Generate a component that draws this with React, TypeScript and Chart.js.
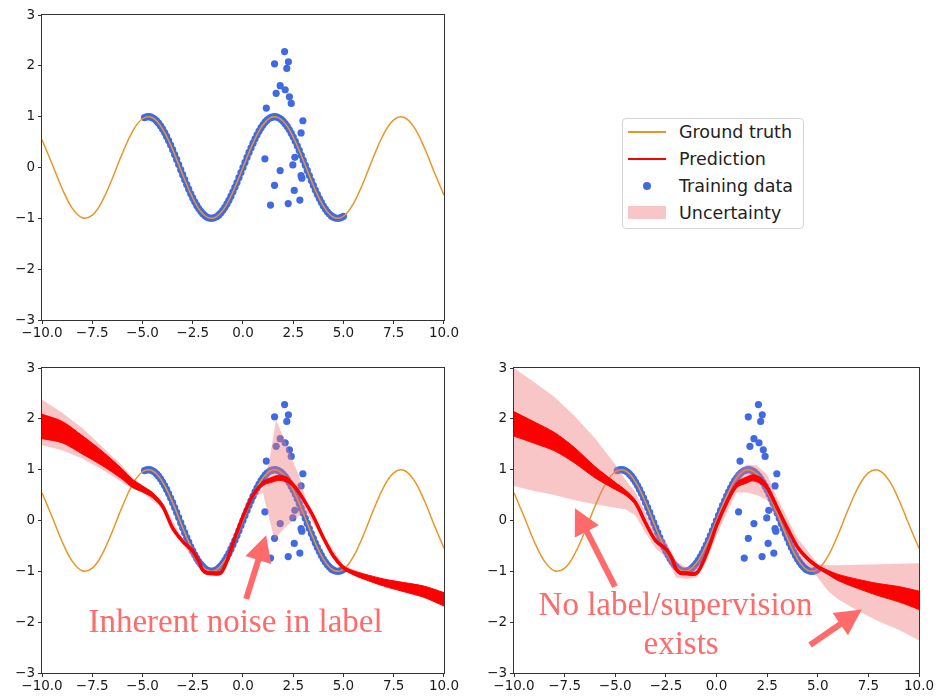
import React, { useEffect, useRef } from 'react';
import { Chart, registerables } from 'chart.js';

Chart.register(...registerables);

// ---------- tick labels ----------
const X_TICKS = [-10, -7.5, -5, -2.5, 0, 2.5, 5, 7.5, 10];
const X_TICK_LABELS = ['−10.0', '−7.5', '−5.0', '−2.5', '0.0', '2.5', '5.0', '7.5', '10.0'];
const Y_TICKS = [-3, -2, -1, 0, 1, 2, 3];
const Y_TICK_LABELS = ['−3', '−2', '−1', '0', '1', '2', '3'];

const LEGEND_LABELS = ['Ground truth', 'Prediction', 'Training data', 'Uncertainty'];

// ---------- ground truth ----------
const truthX = [-10, -9.5, -9, -8.5, -8, -7.5, -7, -6.5, -6, -5.5, -5, -4.5, -4, -3.5, -3, -2.5, -2, -1.5, -1, -0.5, 0,
  0.5, 1, 1.5, 2, 2.5, 3, 3.5, 4, 4.5, 5, 5.5, 6, 6.5, 7, 7.5, 8, 8.5, 9, 9.5, 10];
const truthY = [0.544, 0.075, -0.412, -0.798, -0.989, -0.938, -0.657, -0.215, 0.279, 0.706, 0.959, 0.978, 0.757, 0.351, -0.141,
  -0.598, -0.909, -0.997, -0.841, -0.479, 0, 0.479, 0.841, 0.997, 0.909, 0.598, 0.141, -0.351, -0.757, -0.978, -0.959,
  -0.706, -0.279, 0.215, 0.657, 0.938, 0.989, 0.798, 0.412, -0.075, -0.544];

// ---------- training data: clean samples on the curve ----------
const denseX = [-4.9, -4.8, -4.7, -4.6, -4.5, -4.4, -4.3, -4.2, -4.1, -4.0, -3.9, -3.8, -3.7, -3.6, -3.5, -3.4, -3.3, -3.2, -3.1, -3.0,
  -2.9, -2.8, -2.7, -2.6, -2.5, -2.4, -2.3, -2.2, -2.1, -2.0, -1.9, -1.8, -1.7, -1.6, -1.5, -1.4, -1.3, -1.2, -1.1, -1.0,
  -0.9, -0.8, -0.7, -0.6, -0.5, -0.4, -0.3, -0.2, -0.1, 0.0, 0.1, 0.2, 0.3, 0.4, 0.5, 0.6, 0.7, 0.8, 0.9, 1.0,
  1.1, 1.2, 1.3, 1.4, 1.5, 1.6, 1.7, 1.8, 1.9, 2.0, 2.1, 2.2, 2.3, 2.4, 2.5, 2.6, 2.7, 2.8, 2.9, 3.0,
  3.1, 3.2, 3.3, 3.4, 3.5, 3.6, 3.7, 3.8, 3.9, 4.0, 4.1, 4.2, 4.3, 4.4, 4.5, 4.6, 4.7, 4.8, 4.9, 5.0];
const denseY = [0.983, 0.996, 1.0, 0.994, 0.978, 0.952, 0.916, 0.872, 0.818, 0.757, 0.688, 0.612, 0.53, 0.443, 0.351, 0.256, 0.158, 0.058, -0.042, -0.141,
  -0.239, -0.335, -0.427, -0.516, -0.598, -0.676, -0.746, -0.808, -0.863, -0.909, -0.946, -0.974, -0.992, -1.0, -0.997, -0.985, -0.964, -0.932, -0.891, -0.841,
  -0.783, -0.717, -0.644, -0.565, -0.479, -0.389, -0.296, -0.199, -0.1, 0.0, 0.1, 0.199, 0.296, 0.389, 0.479, 0.565, 0.644, 0.717, 0.783, 0.841,
  0.891, 0.932, 0.964, 0.985, 0.997, 1.0, 0.992, 0.974, 0.946, 0.909, 0.863, 0.808, 0.746, 0.676, 0.598, 0.516, 0.427, 0.335, 0.239, 0.141,
  0.042, -0.058, -0.158, -0.256, -0.351, -0.443, -0.53, -0.612, -0.688, -0.757, -0.818, -0.872, -0.916, -0.952, -0.978, -0.994, -1.0, -0.996, -0.983, -0.959];

// ---------- training data: noisy labels ----------
const noisyX = [2.07, 1.57, 2.26, 2.18, 1.85, 2.10, 1.65, 2.31, 2.40, 1.16, 2.98, 2.89, 1.09, 2.58, 2.48, 1.85, 2.89, 2.93, 1.57, 2.55, 1.37, 2.25, 2.83];
const noisyY = [2.28, 2.04, 2.08, 1.95, 1.61, 1.53, 1.46, 1.39, 1.26, 1.17, 0.92, 0.68, 0.17, 0.20, 0.05, -0.06, -0.16, -0.21, -0.35, -0.45, -0.74, -0.71, -0.64];

// ---------- bottom-left: prediction ----------
const predLeftX = [-10, -9, -8, -7, -6, -5.5, -5, -4.5, -4, -3.5, -3, -2.5, -2.2, -2, -1.8, -1.5, -1.1, -0.8, -0.5, 0,
  0.5, 1, 1.5, 1.8, 2.2, 2.6, 3, 3.5, 4, 4.5, 5, 5.5, 6, 7, 8, 9, 10];
const predLeftY = [1.85, 1.74, 1.49, 1.22, 0.91, 0.73, 0.62, 0.50, 0.28, -0.15, -0.41, -0.60, -0.80, -0.98, -1.03, -1.04, -1.03, -0.80, -0.45, 0.08,
  0.50, 0.73, 0.81, 0.84, 0.80, 0.65, 0.42, 0.08, -0.34, -0.70, -0.93, -1.03, -1.10, -1.22, -1.31, -1.40, -1.55];
const predLeftJitter = [0.24, 0.21, 0.18, 0.14, 0.10, 0.08, 0.06, 0.05, 0.04, 0.03, 0.03, 0.03, 0.03, 0.03, 0.03, 0.03, 0.03, 0.03, 0.03, 0.03,
  0.03, 0.04, 0.05, 0.05, 0.05, 0.04, 0.03, 0.03, 0.03, 0.03, 0.03, 0.04, 0.05, 0.07, 0.09, 0.11, 0.13];

// ---------- bottom-left: uncertainty ----------
const bandLeftX = [-10, -9, -8, -7, -6, -5.5, -5, -4, -3, -2, -1.5, -1, 0, 0.5, 1.0, 1.1, 1.3, 1.57, 1.65, 2.0,
  2.2, 2.47, 2.81, 3.22, 3.4, 4, 5, 6, 7, 8, 9, 10];
const bandLeftLo = [1.48, 1.38, 1.22, 1.00, 0.75, 0.63, 0.55, 0.22, -0.46, -1.03, -1.09, -1.00, 0.03, 0.45, 0.55, 0.35, 0.05, -0.38, -0.33, -0.18,
  -0.10, 0.0, 0.10, 0.12, 0.0, -0.39, -0.98, -1.16, -1.29, -1.40, -1.52, -1.70];
const bandLeftHi = [2.38, 2.12, 1.82, 1.45, 1.07, 0.85, 0.70, 0.34, -0.36, -0.93, -0.99, -0.90, 0.13, 0.55, 0.62, 0.85, 1.15, 1.80, 1.98, 1.65,
  1.45, 1.18, 0.86, 0.30, 0.10, -0.29, -0.88, -1.04, -1.15, -1.22, -1.28, -1.40];

// ---------- bottom-right: prediction ----------
const predRightX = [-10, -9, -8, -7, -6, -5, -4.5, -4, -3.5, -3, -2.5, -2.2, -2, -1.8, -1.5, -1, -0.7, -0.3, 0, 0.5,
  1, 1.5, 1.8, 2.2, 2.5, 3, 3.5, 4, 4.5, 5, 5.5, 6, 7, 8, 9, 10];
const predRightY = [1.90, 1.73, 1.55, 1.28, 0.95, 0.68, 0.55, 0.35, -0.05, -0.40, -0.56, -0.75, -0.95, -1.03, -1.04, -1.04, -0.85, -0.45, -0.10, 0.35,
  0.70, 0.80, 0.84, 0.78, 0.65, 0.25, -0.15, -0.52, -0.75, -0.91, -1.02, -1.12, -1.25, -1.36, -1.45, -1.57];
const predRightJitter = [0.24, 0.21, 0.18, 0.15, 0.11, 0.07, 0.05, 0.04, 0.03, 0.03, 0.03, 0.03, 0.03, 0.03, 0.03, 0.03, 0.03, 0.03, 0.03, 0.04,
  0.05, 0.06, 0.06, 0.06, 0.05, 0.04, 0.03, 0.03, 0.03, 0.03, 0.04, 0.06, 0.09, 0.12, 0.15, 0.18];

// ---------- bottom-right: uncertainty ----------
const bandRightX = [-10, -9, -8, -7, -6, -5, -4.5, -4, -3.5, -3, -2.5, -2, -1.5, -1, -0.5, 0, 0.5, 1, 1.5, 2,
  2.5, 3, 3.5, 4, 4.5, 5, 5.5, 6, 7, 8, 9, 10];
const bandRightLo = [0.68, 0.58, 0.50, 0.40, 0.32, 0.25, 0.22, 0.10, -0.25, -0.55, -0.72, -1.12, -1.15, -1.12, -0.80, -0.30, 0.15, 0.55, 0.55, 0.50,
  0.40, 0.05, -0.35, -0.70, -0.90, -1.12, -1.38, -1.55, -1.78, -1.98, -2.15, -2.36];
const bandRightHi = [3.00, 2.72, 2.43, 2.05, 1.62, 1.10, 0.80, 0.55, 0.15, -0.25, -0.40, -0.80, -0.92, -0.90, -0.50, 0.05, 0.50, 0.95, 1.10, 1.08,
  0.90, 0.45, 0.05, -0.35, -0.60, -0.85, -0.88, -0.88, -0.87, -0.86, -0.85, -0.84];

// ---------- annotation text ----------
const NOTE_LEFT_TEXT = ['Inherent noise in label'];
const NOTE_RIGHT_TEXT = ['No label/supervision', 'exists'];

// ---------- styles ----------
const ORANGE = '#e8962a';
const RED = '#ff0000';
const BLUE = '#4169e1';
const BAND = 'rgba(238, 120, 120, 0.42)';
const NOTE = '#ff6a6a';
const AXIS = '#333333';
const TICK_FONT = { family: 'DejaVu Sans', size: 13.5 };

const pts = (xs: number[], ys: number[]) => xs.map((x, i) => ({ x, y: ys[i] }));

const framePlugin = {
  id: 'frame',
  afterDatasetsDraw(chart: any) {
    const { ctx, chartArea: a } = chart;
    ctx.save();
    ctx.strokeStyle = AXIS;
    ctx.lineWidth = 1;
    const l = Math.round(a.left) - 0.5;
    const t = Math.round(a.top) - 0.5;
    const r = Math.round(a.right) + 0.5;
    const b = Math.round(a.bottom) + 0.5;
    ctx.strokeRect(l, t, r - l, b - t);
    ctx.restore();
  },
};

type Arrow = { from: [number, number]; to: [number, number] };
type Label = { x: number; y: number; text: string };

function makeNotesPlugin(arrows: Arrow[], labels: Label[]) {
  return {
    id: 'notes',
    afterDatasetsDraw(chart: any) {
      const { ctx } = chart;
      const xs = chart.scales.x;
      const ys = chart.scales.y;
      ctx.save();
      ctx.fillStyle = NOTE;
      ctx.strokeStyle = NOTE;
      for (const ar of arrows) {
        const x1 = xs.getPixelForValue(ar.from[0]);
        const y1 = ys.getPixelForValue(ar.from[1]);
        const x2 = xs.getPixelForValue(ar.to[0]);
        const y2 = ys.getPixelForValue(ar.to[1]);
        const dx = x2 - x1;
        const dy = y2 - y1;
        const L = Math.hypot(dx, dy);
        const ux = dx / L;
        const uy = dy / L;
        const hl = 26;
        const hw = 13.5;
        const bx = x2 - ux * hl;
        const by = y2 - uy * hl;
        ctx.lineWidth = 6;
        ctx.lineCap = 'butt';
        ctx.beginPath();
        ctx.moveTo(x1, y1);
        ctx.lineTo(bx + ux * 2, by + uy * 2);
        ctx.stroke();
        ctx.beginPath();
        ctx.moveTo(x2, y2);
        ctx.lineTo(bx - uy * hw, by + ux * hw);
        ctx.lineTo(bx + uy * hw, by - ux * hw);
        ctx.closePath();
        ctx.fill();
      }
      ctx.font = '33px "Liberation Serif", "DejaVu Serif", serif';
      ctx.textAlign = 'center';
      ctx.textBaseline = 'alphabetic';
      for (const lb of labels) {
        ctx.fillText(lb.text, xs.getPixelForValue(lb.x), ys.getPixelForValue(lb.y));
      }
      ctx.restore();
    },
  };
}

type Kind = 'top' | 'left' | 'right';

function buildConfig(kind: Kind, xAxisHeight: number, padRight: number): any {
  const datasets: any[] = [];
  if (kind !== 'top') {
    const pX = kind === 'left' ? predLeftX : predRightX;
    const pY = kind === 'left' ? predLeftY : predRightY;
    const pJ = kind === 'left' ? predLeftJitter : predRightJitter;
    const bX = kind === 'left' ? bandLeftX : bandRightX;
    const bLo = kind === 'left' ? bandLeftLo : bandRightLo;
    const bHi = kind === 'left' ? bandLeftHi : bandRightHi;
    datasets.push(
      { label: 'Prediction', data: pts(pX, pY), borderColor: RED, borderWidth: 3.5, pointRadius: 0, tension: 0.3, fill: false, order: 0 },
      { label: 'Prediction (upper jitter)', data: pX.map((x, i) => ({ x, y: pY[i] + pJ[i] })), borderColor: RED, borderWidth: 1, backgroundColor: RED, pointRadius: 0, tension: 0.3, fill: '+1', order: 0 },
      { label: 'Prediction (lower jitter)', data: pX.map((x, i) => ({ x, y: pY[i] - pJ[i] })), borderColor: RED, borderWidth: 1, pointRadius: 0, tension: 0.3, fill: false, order: 0 },
      { label: 'Uncertainty', data: pts(bX, bHi), borderColor: 'rgba(0,0,0,0)', borderWidth: 0, backgroundColor: BAND, pointRadius: 0, tension: 0, fill: '+1', order: 1 },
      { label: 'Uncertainty (lower)', data: pts(bX, bLo), borderColor: 'rgba(0,0,0,0)', borderWidth: 0, pointRadius: 0, tension: 0, fill: false, order: 1 },
    );
  }
  datasets.push(
    { label: 'Ground truth', data: pts(truthX, truthY), borderColor: ORANGE, borderWidth: 1.5, pointRadius: 0, tension: 0.4, fill: false, order: 2 },
    { label: 'Training data', data: [...pts(denseX, denseY), ...pts(noisyX, noisyY)], showLine: false, pointRadius: 3.6, pointBorderWidth: 0, pointBackgroundColor: BLUE, backgroundColor: BLUE, order: 3 },
  );

  const plugins: any[] = [framePlugin];
  if (kind === 'left') {
    plugins.push(makeNotesPlugin(
      [{ from: [0.16, -1.54], to: [1.15, -0.29] }],
      [{ x: -0.37, y: -2.19, text: NOTE_LEFT_TEXT[0] }],
    ));
  } else if (kind === 'right') {
    plugins.push(makeNotesPlugin(
      [
        { from: [-5.01, -1.30], to: [-6.99, 0.24] },
        { from: [4.62, -2.45], to: [7.17, -1.75] },
      ],
      [
        { x: -2.02, y: -1.86, text: NOTE_RIGHT_TEXT[0] },
        { x: -1.75, y: -2.63, text: NOTE_RIGHT_TEXT[1] },
      ],
    ));
  }

  return {
    type: 'line',
    data: { datasets },
    plugins,
    options: {
      animation: false,
      responsive: false,
      events: [],
      layout: { padding: { top: 15, right: padRight, left: 0, bottom: 0 } },
      plugins: { legend: { display: false }, tooltip: { enabled: false } },
      scales: {
        x: {
          type: 'linear',
          min: -10,
          max: 10,
          afterBuildTicks: (s: any) => { s.ticks = X_TICKS.map((v) => ({ value: v })); },
          afterFit: (s: any) => { s.height = xAxisHeight; },
          ticks: {
            callback: (_v: any, i: number) => X_TICK_LABELS[i],
            font: TICK_FONT,
            color: '#1a1a1a',
            padding: 1,
            maxRotation: 0,
            autoSkip: false,
          },
          grid: { display: true, drawOnChartArea: false, drawTicks: true, tickLength: 4, tickColor: AXIS, tickWidth: 1 },
          border: { display: false },
        },
        y: {
          type: 'linear',
          min: -3,
          max: 3,
          afterBuildTicks: (s: any) => { s.ticks = Y_TICKS.map((v) => ({ value: v })); },
          afterFit: (s: any) => { s.width = 42; },
          ticks: {
            callback: (_v: any, i: number) => Y_TICK_LABELS[i],
            font: TICK_FONT,
            color: '#1a1a1a',
            padding: 3,
            autoSkip: false,
          },
          grid: { display: true, drawOnChartArea: false, drawTicks: true, tickLength: 4, tickColor: AXIS, tickWidth: 1 },
          border: { display: false },
        },
      },
    },
  };
}

function Panel(props: { kind: Kind; left: number; top: number; width: number; height: number; xAxisHeight: number; padRight: number }) {
  const ref = useRef<HTMLCanvasElement | null>(null);
  useEffect(() => {
    if (!ref.current) return;
    const chart = new Chart(ref.current, buildConfig(props.kind, props.xAxisHeight, props.padRight));
    return () => chart.destroy();
  }, []);
  return (
    <canvas
      ref={ref}
      width={props.width}
      height={props.height}
      style={{ position: 'absolute', left: props.left, top: props.top, width: props.width, height: props.height }}
    />
  );
}

function LegendHandle({ i }: { i: number }) {
  if (i === 0) return <div style={{ position: 'absolute', left: 5, top: 11, width: 38, height: 2, background: ORANGE }} />;
  if (i === 1) return <div style={{ position: 'absolute', left: 5, top: 11, width: 38, height: 2, background: RED }} />;
  if (i === 2) return <div style={{ position: 'absolute', left: 20, top: 8, width: 8, height: 8, borderRadius: 4, background: BLUE }} />;
  return <div style={{ position: 'absolute', left: 5, top: 5.5, width: 38, height: 13, background: BAND }} />;
}

function Legend() {
  const rowCenters = [13, 40, 67, 93.5];
  return (
    <div
      style={{
        position: 'absolute', left: 622, top: 118, width: 182, height: 111, boxSizing: 'border-box',
        border: '1px solid #d4d4d4', borderRadius: 4, background: '#ffffff',
      }}
    >
      {LEGEND_LABELS.map((label, i) => (
        <div key={label} style={{ position: 'absolute', left: 0, top: rowCenters[i] - 12, width: 180, height: 24 }}>
          <LegendHandle i={i} />
          <span
            style={{
              position: 'absolute', left: 56, top: 0, lineHeight: '24px', fontSize: 17.5,
              fontFamily: '"DejaVu Sans", sans-serif', color: '#222222', whiteSpace: 'nowrap',
            }}
          >
            {label}
          </span>
        </div>
      ))}
    </div>
  );
}

export default function App() {
  return (
    <div style={{ position: 'fixed', left: 0, top: 0, width: 936, height: 696, background: '#ffffff', overflow: 'hidden' }}>
      <Panel kind="top" left={0} top={0} width={460} height={345} xAxisHeight={25} padRight={15} />
      <Panel kind="left" left={0} top={353} width={460} height={343} xAxisHeight={23} padRight={15} />
      <Panel kind="right" left={472} top={353} width={464} height={343} xAxisHeight={23} padRight={17} />
      <Legend />
    </div>
  );
}
